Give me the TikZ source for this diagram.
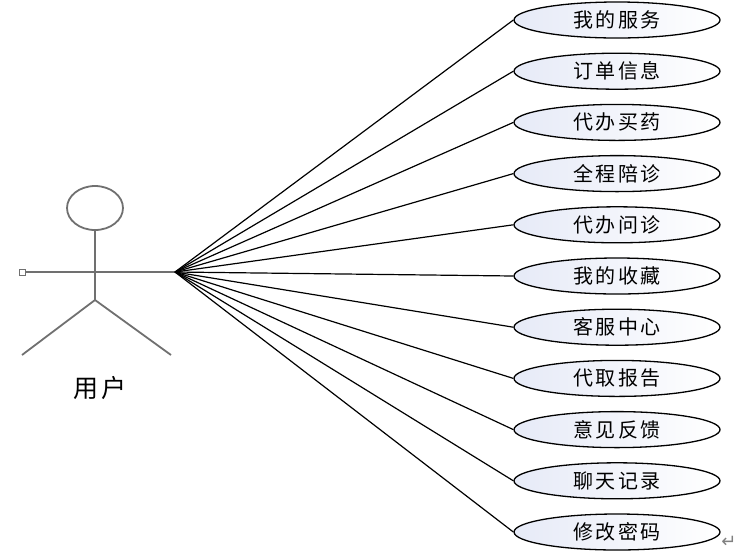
\documentclass[tikz,border=0pt]{standalone}
\usepackage{fontspec}
\newfontfamily\cjk[LetterSpace=12]{Noto Sans CJK SC}
\newfontfamily\symfont{DejaVu Sans}
\usetikzlibrary{shapes.geometric}

\definecolor{ucblue}{RGB}{230,234,247}
\definecolor{actorgray}{RGB}{112,112,112}

\tikzset{
  usecase/.style={ellipse, draw, line width=1.3pt, minimum width=206pt,
    minimum height=36pt, inner sep=0pt, left color=ucblue, right color=white,
    font=\cjk\fontsize{20}{22}\selectfont},
  limb/.style={draw=actorgray, line width=1.8pt},
  link/.style={line width=1.2pt},
}

\begin{document}
\begin{tikzpicture}[x=1pt, y=-1pt]
\useasboundingbox (0,0) rectangle (752,558);

% Parameters
\def\ucX{617}      % centre of the use case column
\def\ucTop{20}     % centre of the first use case
\def\ucGap{51.2}   % distance between use cases

% Actor
\draw[limb] (95,208) ellipse (28 and 22);
\draw[limb] (95,230) -- (95,300);
\draw[limb] (22,272) -- (175,272);
\draw[limb] (22,355) -- (95,300) -- (171,355);
\draw[draw=actorgray, line width=1pt, fill=white] (19,269) rectangle (25,275);
\node[font=\cjk\fontsize{25}{28}\selectfont] (actorlabel) at (100,388) {用户};

\coordinate (hub) at (175,272);

% Use cases and their links
\foreach \name [count=\i from 0] in {我的服务,订单信息,代办买药,全程陪诊,代办问诊,
    我的收藏,客服中心,代取报告,意见反馈,聊天记录,修改密码} {
    \pgfmathsetmacro\ucY{\ucTop + \i*\ucGap}
    \node[usecase] (uc\i) at (\ucX,\ucY) {\name};
    \draw[link] (hub) -- (uc\i.west);
}

\node[text=gray, font=\symfont\fontsize{18}{18}\selectfont] (retmark) at (729,542) {↵};

\end{tikzpicture}
\end{document}
